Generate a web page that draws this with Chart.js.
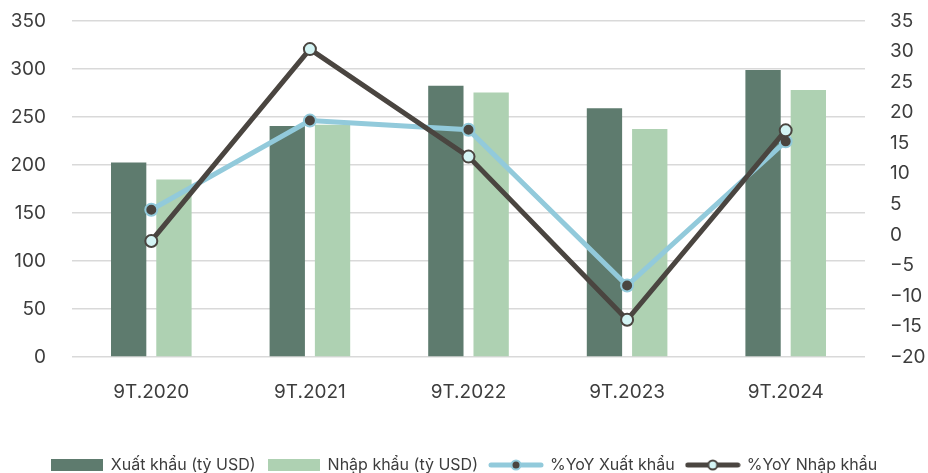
<!DOCTYPE html>
<html>
<head>
<meta charset="utf-8">
<script src="https://cdn.jsdelivr.net/npm/chart.js@4.4.0/dist/chart.umd.min.js"></script>
<style>
  html, body { margin: 0; padding: 0; background: #ffffff; }
  #wrap { width: 928px; height: 473px; position: relative; }
</style>
</head>
<body>
<div id="wrap"><canvas id="tradeChart"></canvas></div>
<script>
// ===============================
// Data
// ===============================
const categories = ["9T.2020", "9T.2021", "9T.2022", "9T.2023", "9T.2024"];
const exportValues = [202.5, 240.5, 282.5, 259, 299];   // Xuất khẩu (tỷ USD)
const importValues = [185, 242, 275.5, 237.5, 278];     // Nhập khẩu (tỷ USD)
const exportYoY = [4.1, 18.7, 17.2, -8.3, 15.3];        // %YoY Xuất khẩu
const importYoY = [-1.0, 30.4, 12.8, -13.9, 17.1];      // %YoY Nhập khẩu
const leftTicks = { min: 0, max: 350, step: 50 };
const rightTicks = { min: -20, max: 35, step: 5 };

const COLORS = {
    exportBar: "#5e7b6e",
    importBar: "#aed1b2",
    exportLine: "#92cadb",
    importLine: "#4a4540",
    lightDot: "#d4f4f4",
    text: "#3d3d3d",
    grid: "#d9d9d9",
};
const FONT = "'Inter', 'Noto Sans', sans-serif";

// Small canvases used as legend symbols
function barSymbol(color) {
    const c = document.createElement("canvas");
    c.width = 52; c.height = 12;
    const g = c.getContext("2d");
    g.fillStyle = color;
    g.fillRect(0, 0, 52, 12);
    return c;
}

function lineSymbol(lineColor, dotFill, dotBorder) {
    const c = document.createElement("canvas");
    c.width = 56; c.height = 14;
    const g = c.getContext("2d");
    g.strokeStyle = lineColor;
    g.lineWidth = 5;
    g.lineCap = "round";
    g.beginPath();
    g.moveTo(3, 7);
    g.lineTo(53, 7);
    g.stroke();
    g.beginPath();
    g.arc(28, 7, 4.5, 0, Math.PI * 2);
    g.fillStyle = dotFill;
    g.fill();
    g.lineWidth = 2;
    g.strokeStyle = dotBorder;
    g.stroke();
    return c;
}

const legendSymbols = [
    barSymbol(COLORS.exportBar),
    barSymbol(COLORS.importBar),
    lineSymbol(COLORS.exportLine, COLORS.importLine, COLORS.exportLine),
    lineSymbol(COLORS.importLine, COLORS.lightDot, COLORS.importLine),
];

const minusSign = (v) => String(v).replace("-", "\u2212");

const ctx = document.getElementById("tradeChart").getContext("2d");

new Chart(ctx, {
    type: "bar",
    data: {
        labels: categories,
        datasets: [
            {
                label: "Xuất khẩu (tỷ USD)",
                data: exportValues,
                backgroundColor: COLORS.exportBar,
                yAxisID: "y",
                order: 3,
                categoryPercentage: 0.571,
                barPercentage: 0.78,
            },
            {
                label: "Nhập khẩu (tỷ USD)",
                data: importValues,
                backgroundColor: COLORS.importBar,
                yAxisID: "y",
                order: 3,
                categoryPercentage: 0.571,
                barPercentage: 0.78,
            },
            {
                type: "line",
                label: "%YoY Xuất khẩu",
                data: exportYoY,
                yAxisID: "y1",
                order: 2,
                borderColor: COLORS.exportLine,
                borderWidth: 5,
                tension: 0,
                pointRadius: 6,
                pointBackgroundColor: COLORS.importLine,
                pointBorderColor: COLORS.exportLine,
                pointBorderWidth: 2,
            },
            {
                type: "line",
                label: "%YoY Nhập khẩu",
                data: importYoY,
                yAxisID: "y1",
                order: 1,
                borderColor: COLORS.importLine,
                borderWidth: 5,
                tension: 0,
                pointRadius: 6,
                pointBackgroundColor: COLORS.lightDot,
                pointBorderColor: COLORS.importLine,
                pointBorderWidth: 2,
            },
        ],
    },
    options: {
        responsive: true,
        maintainAspectRatio: false,
        animation: false,
        layout: { padding: { top: 21, left: 0, right: 0, bottom: -10 } },
        plugins: {
            tooltip: { enabled: false },
            legend: {
                display: true,
                position: "bottom",
                labels: {
                    color: COLORS.text,
                    font: { size: 16, family: FONT },
                    padding: 12,
                    usePointStyle: true,
                    pointStyleWidth: 52,
                    generateLabels: (chart) => chart.data.datasets.map((ds, i) => ({
                        text: ds.label,
                        datasetIndex: i,
                        pointStyle: legendSymbols[i],
                        fillStyle: "transparent",
                        strokeStyle: "transparent",
                        lineWidth: 0,
                        fontColor: COLORS.text,
                        hidden: false,
                    })),
                },
            },
        },
        scales: {
            x: {
                grid: { display: false, drawTicks: false },
                border: { display: false },
                ticks: { color: COLORS.text, font: { size: 19, family: FONT }, padding: 24 },
                afterFit: (scale) => { scale.height = 88; },
            },
            y: {
                position: "left",
                min: leftTicks.min,
                max: leftTicks.max,
                ticks: { stepSize: leftTicks.step, color: COLORS.text, font: { size: 19, family: FONT }, padding: 1 },
                grid: { color: COLORS.grid, lineWidth: 1.5, drawTicks: true, tickLength: 25, tickColor: "transparent" },
                border: { display: false },
                afterFit: (scale) => { scale.width = 72; },
            },
            y1: {
                position: "right",
                min: rightTicks.min,
                max: rightTicks.max,
                ticks: {
                    stepSize: rightTicks.step,
                    color: COLORS.text,
                    font: { size: 19, family: FONT },
                    padding: 1,
                    callback: (v) => minusSign(v),
                },
                grid: { display: false, drawTicks: true, tickLength: 24, tickColor: "transparent" },
                border: { display: false },
                afterFit: (scale) => { scale.width = 63; },
            },
        },
    },
});
</script>
</body>
</html>
